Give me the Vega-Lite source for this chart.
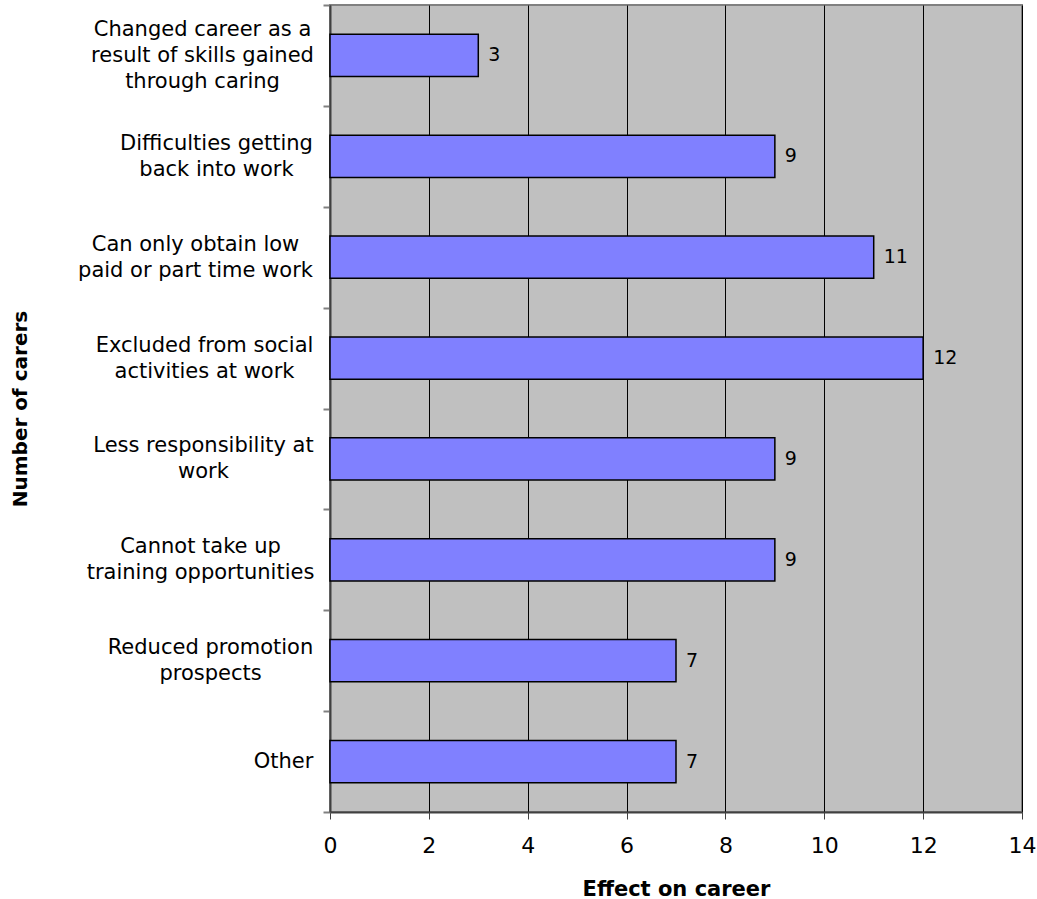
{
  "$schema": "https://vega.github.io/schema/vega-lite/v6.json",
  "width": 692,
  "height": 807,
  "autosize": "none",
  "padding": {"left": 330, "top": 5, "right": 15, "bottom": 87},
  "background": "white",
  "config": {
    "view": {"fill": "#C0C0C0", "stroke": "#808080", "strokeWidth": 2},
    "font": "DejaVu Sans"
  },
  "data": {
    "values": [
      {"effect": "Changed career as a|result of skills gained|through caring", "carers": 3},
      {"effect": "Difficulties getting|back into work", "carers": 9},
      {"effect": "Can only obtain low|paid or part time work", "carers": 11},
      {"effect": "Excluded from social|activities at work", "carers": 12},
      {"effect": "Less responsibility at|work", "carers": 9},
      {"effect": "Cannot take up|training opportunities", "carers": 9},
      {"effect": "Reduced promotion|prospects", "carers": 7},
      {"effect": "Other", "carers": 7}
    ]
  },
  "encoding": {
    "y": {
      "field": "effect",
      "type": "nominal",
      "sort": null,
      "scale": {"paddingInner": 0, "paddingOuter": 0},
      "axis": {
        "title": "Number of carers",
        "titleFont": "DejaVu Sans",
        "titleFontSize": 20,
        "titleFontWeight": "bold",
        "titleColor": "black",
        "titleX": -310,
        "titleBaseline": "middle",
        "labelExpr": "split(datum.label, '|')",
        "labelFont": "DejaVu Sans",
        "labelFontSize": 21,
        "labelFontWeight": "normal",
        "labelColor": "black",
        "labelLineHeight": 26,
        "labelAlign": "center",
        "labelBaseline": "middle",
        "labelLimit": 400,
        "labelPadding": 0,
        "encoding": {
          "labels": {
            "dx": {
              "value": {
                "signal": "datum.value == 'Other' ? -40 : datum.value == 'Reduced promotion|prospects' ? -113 : datum.value == 'Difficulties getting|back into work' ? -107 : datum.value == 'Can only obtain low|paid or part time work' ? -128 : datum.value == 'Cannot take up|training opportunities' ? -123 : datum.value == 'Changed career as a|result of skills gained|through caring' ? -121 : datum.value == 'Excluded from social|activities at work' ? -119 : -120"
              }
            },
            "dy": {
              "value": {
                "signal": "-13 * (length(split(datum.value, '|')) - 1)"
              }
            }
          }
        },
        "tickBand": "extent",
        "tickSize": 7,
        "tickColor": "#808080",
        "tickWidth": 2,
        "domainColor": "#404040",
        "domainWidth": 2,
        "grid": false
      }
    },
    "x": {
      "field": "carers",
      "type": "quantitative",
      "scale": {"domain": [0, 14], "nice": false},
      "axis": {
        "title": "Effect on career",
        "titleFont": "DejaVu Sans",
        "titleFontSize": 21,
        "titleFontWeight": "bold",
        "titleColor": "black",
        "titleY": 83,
        "titleBaseline": "alphabetic",
        "values": [0, 2, 4, 6, 8, 10, 12, 14],
        "labelFont": "DejaVu Sans",
        "labelFontSize": 22,
        "labelColor": "black",
        "labelPadding": 16,
        "labelFlush": false,
        "tickSize": 7,
        "tickColor": "#404040",
        "tickWidth": 1,
        "domainColor": "#404040",
        "domainWidth": 2,
        "grid": true,
        "gridColor": "black",
        "gridWidth": 1,
        "gridOpacity": 1
      }
    }
  },
  "layer": [
    {
      "mark": {
        "type": "bar",
        "height": {"band": 0.42},
        "fill": "#8080FF",
        "stroke": "black",
        "strokeWidth": 1.5
      }
    },
    {
      "mark": {
        "type": "text",
        "align": "left",
        "baseline": "middle",
        "dx": 10,
        "font": "DejaVu Sans",
        "fontSize": 19,
        "color": "black"
      },
      "encoding": {"text": {"field": "carers", "type": "quantitative"}}
    }
  ]
}
